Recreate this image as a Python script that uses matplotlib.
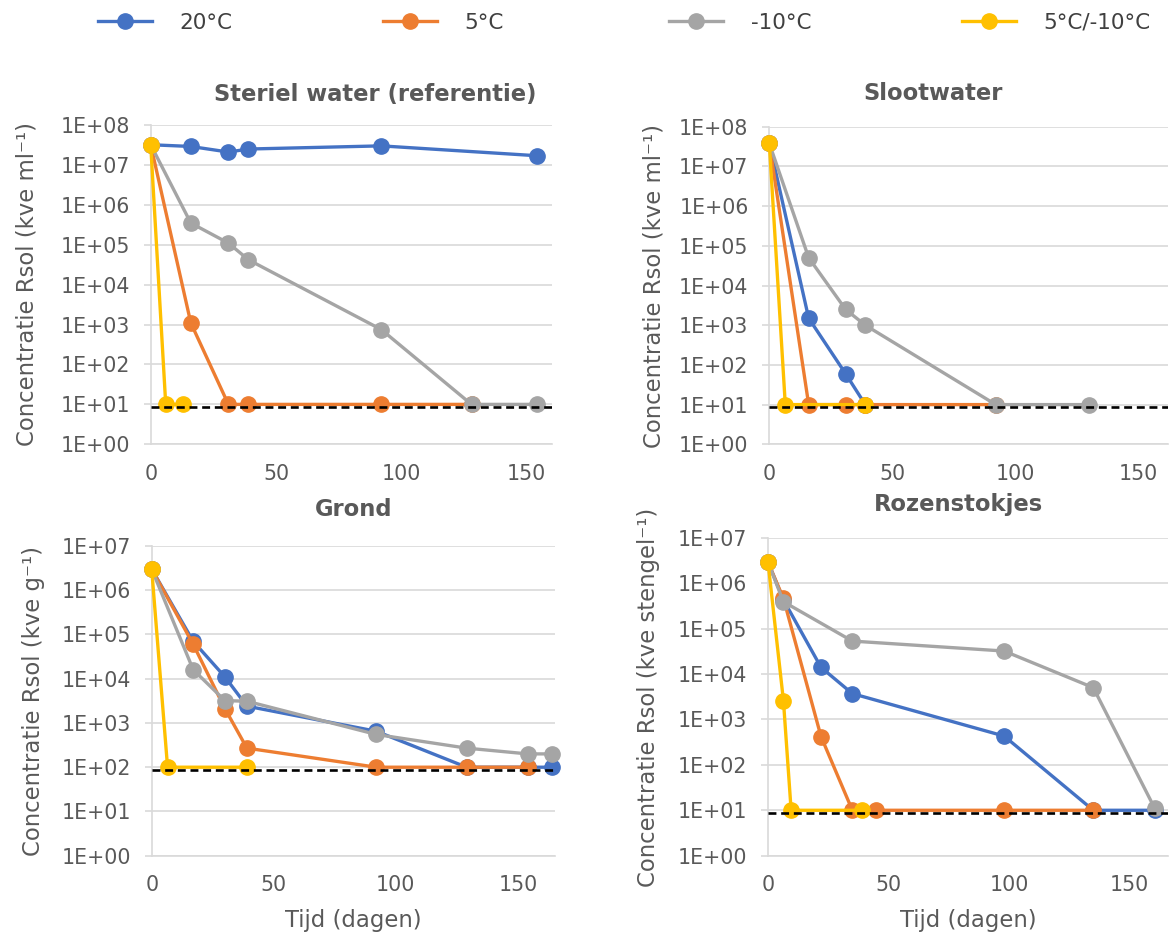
import numpy as np
import matplotlib
matplotlib.use("Agg")
import matplotlib.pyplot as plt
from matplotlib.ticker import FixedLocator, FuncFormatter, NullLocator

plt.rcParams['font.family'] = ['DejaVu Sans']

# ---------------- data ----------------
series_labels = ['20°C', '5°C', '-10°C', '5°C/-10°C']
series_colors = ['#4472C4', '#ED7D31', '#A5A5A5', '#FFC000']
panel_titles = ['Steriel water (referentie)', 'Slootwater', 'Grond', 'Rozenstokjes']
panel_ylabels = ['Concentratie Rsol (kve ml\u207b\u00b9)', 'Concentratie Rsol (kve ml\u207b\u00b9)',
                 'Concentratie Rsol (kve g\u207b\u00b9)', 'Concentratie Rsol (kve stengel\u207b\u00b9)']
x_ticks = [0, 50, 100, 150]
x_label = 'Tijd (dagen)'

# Steriel water
sw_days_20 = [0, 16, 31, 39, 92, 154]
sw_vals_20 = [3.2e7, 2.9e7, 2.1e7, 2.5e7, 3.0e7, 1.7e7]
sw_days_5 = [0, 16, 31, 39, 92, 128]
sw_vals_5 = [3.2e7, 1.1e3, 10, 10, 10, 10]
sw_days_m10 = [0, 16, 31, 39, 92, 128, 154]
sw_vals_m10 = [3.2e7, 3.5e5, 1.1e5, 4.2e4, 7.5e2, 10, 10]
sw_days_mix = [0, 6, 13]
sw_vals_mix = [3.2e7, 10, 10]
sw_limit = 8.5

# Slootwater
sl_days_20 = [0, 16, 31, 39]
sl_vals_20 = [3.8e7, 1.5e3, 60, 10]
sl_days_5 = [0, 16, 31, 39, 92]
sl_vals_5 = [3.8e7, 10, 10, 10, 10]
sl_days_m10 = [0, 16, 31, 39, 92, 130]
sl_vals_m10 = [3.8e7, 5.0e4, 2.5e3, 1.0e3, 10, 10]
sl_days_mix = [0, 6.5, 39]
sl_vals_mix = [3.8e7, 10, 10]
sl_limit = 8.5

# Grond
gr_days_20 = [0, 17, 30, 39, 92, 129, 154, 164]
gr_vals_20 = [3.0e6, 7.0e4, 1.1e4, 2.4e3, 6.5e2, 100, 100, 100]
gr_days_5 = [0, 17, 30, 39, 92, 129, 154]
gr_vals_5 = [3.0e6, 6.0e4, 2.1e3, 2.7e2, 100, 100, 100]
gr_days_m10 = [0, 17, 30, 39, 92, 129, 154, 164]
gr_vals_m10 = [3.0e6, 1.6e4, 3.2e3, 3.1e3, 5.5e2, 2.7e2, 2.0e2, 2.0e2]
gr_days_mix = [0, 6.5, 39]
gr_vals_mix = [3.0e6, 100, 100]
gr_limit = 88

# Rozenstokjes
rz_days_20 = [0, 6.4, 22, 35, 98, 135, 160.5]
rz_vals_20 = [2.9e6, 4.3e5, 1.4e4, 3.7e3, 4.3e2, 10, 10]
rz_days_5 = [0, 6.4, 22, 35, 45, 98, 135]
rz_vals_5 = [2.9e6, 4.6e5, 4.2e2, 10, 10, 10, 10]
rz_days_m10 = [0, 6.4, 35, 98, 135, 160.5]
rz_vals_m10 = [2.9e6, 3.9e5, 5.3e4, 3.2e4, 5.0e3, 11]
rz_days_mix = [0, 6.4, 9.6, 39]
rz_vals_mix = [2.9e6, 2.6e3, 10, 10]
rz_limit = 8.8

panel_series = [
    [(sw_days_20, sw_vals_20), (sw_days_5, sw_vals_5), (sw_days_m10, sw_vals_m10), (sw_days_mix, sw_vals_mix)],
    [(sl_days_20, sl_vals_20), (sl_days_5, sl_vals_5), (sl_days_m10, sl_vals_m10), (sl_days_mix, sl_vals_mix)],
    [(gr_days_20, gr_vals_20), (gr_days_5, gr_vals_5), (gr_days_m10, gr_vals_m10), (gr_days_mix, gr_vals_mix)],
    [(rz_days_20, rz_vals_20), (rz_days_5, rz_vals_5), (rz_days_m10, rz_vals_m10), (rz_days_mix, rz_vals_mix)],
]
panel_limits = [sw_limit, sl_limit, gr_limit, rz_limit]
panel_ymax_exp = [8, 8, 7, 7]
panel_xmax = [160, 162, 165, 166]

# ---------------- layout ----------------
W, H = 1172, 936
fig = plt.figure(figsize=(W / 100, H / 100), dpi=100)

def px_rect(left, right, top, bottom):
    return [left / W, 1 - bottom / H, (right - left) / W, (bottom - top) / H]

rects = [px_rect(150.7, 551.7, 125, 444.3),
         px_rect(769.3, 1168, 126.7, 444.3),
         px_rect(151.7, 554.5, 546, 855.7),
         px_rect(768, 1168, 537.7, 855.7)]
title_pos = [(375, 94), (933, 94), (354, 509), (959, 505)]
ylabel_pos = [(27, 284.5), (654, 285.5), (34, 701), (649, 697)]

TXT = '#595959'
GRID = '#D9D9D9'
tick_fs = 14.8
lab_fs = 16.4

fmt = FuncFormatter(lambda v, p: "1E+%02d" % int(round(np.log10(v))))
line_handles = None

for i in range(4):
    ax = fig.add_axes(rects[i])
    handles = []
    for k, (d, v) in enumerate(panel_series[i]):
        h, = ax.plot(d, v, color=series_colors[k], lw=2.4, marker='o', ms=11,
                     mec=series_colors[k], mfc=series_colors[k], clip_on=False,
                     zorder=3 + k, label=series_labels[k])
        handles.append(h)
    if line_handles is None:
        line_handles = handles
    ax.axhline(panel_limits[i], color='black', ls=(0, (3, 1.8)), lw=1.9, zorder=10)
    ax.set_yscale('log')
    ax.set_ylim(1, 10 ** panel_ymax_exp[i])
    ax.set_xlim(0, panel_xmax[i])
    ax.yaxis.set_major_locator(FixedLocator([10.0 ** e for e in range(panel_ymax_exp[i] + 1)]))
    ax.yaxis.set_minor_locator(NullLocator())
    ax.yaxis.set_major_formatter(fmt)
    ax.set_xticks(x_ticks)
    ax.xaxis.set_minor_locator(NullLocator())
    ax.grid(axis='y', color=GRID, lw=1.2)
    ax.set_axisbelow(True)
    for s in ['top', 'right']:
        ax.spines[s].set_visible(False)
    for s in ['left', 'bottom']:
        ax.spines[s].set_color(GRID)
        ax.spines[s].set_linewidth(1.2)
    ax.tick_params(axis='y', length=5, width=1.2, color=GRID, pad=10,
                   labelsize=tick_fs, labelcolor=TXT)
    ax.tick_params(axis='x', length=0, pad=14, labelsize=tick_fs, labelcolor=TXT)

    tx, ty = title_pos[i]
    fig.text(tx / W, 1 - ty / H, panel_titles[i], ha='center', va='center',
             fontsize=16.3, fontweight='bold', color=TXT)
    lx, ly = ylabel_pos[i]
    fig.text(lx / W, 1 - ly / H, panel_ylabels[i], ha='center', va='center',
             rotation=90, fontsize=lab_fs, color=TXT)
    if i >= 2:
        cx = (rects[i][0] + rects[i][2] / 2)
        fig.text(cx, 1 - 920 / H, x_label, ha='center', va='center',
                 fontsize=lab_fs, color=TXT)

# legend: one item per position
leg_x = [98, 383, 669, 962]
for k in range(4):
    leg = fig.legend([line_handles[k]], [series_labels[k]], loc='center left',
                     bbox_to_anchor=(leg_x[k] / W, 1 - 23 / H), frameon=False,
                     borderpad=0, borderaxespad=0, handlelength=2.5,
                     handletextpad=1.3, fontsize=15.5, labelcolor='#404040')

fig.savefig('out.png', dpi=100, facecolor='white')
